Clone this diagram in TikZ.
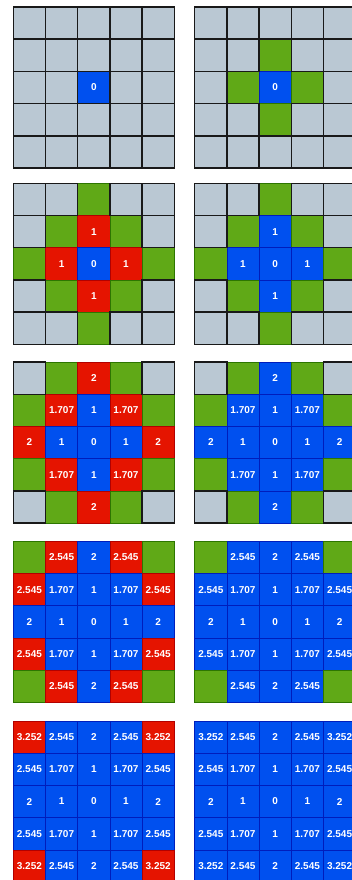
\documentclass[tikz,border=0pt]{standalone}
\usepackage{fontspec}
\setsansfont{Liberation Sans}

\definecolor{cellgray}{HTML}{BAC8D3}
\definecolor{cellgreen}{HTML}{60A917}
\definecolor{linegreen}{HTML}{2D7600}
\definecolor{cellred}{HTML}{E51400}
\definecolor{linered}{HTML}{B20000}
\definecolor{cellblue}{HTML}{0050EF}
\definecolor{lineblue}{HTML}{001DBC}

% distance label from squared offset
\newcommand{\distlabel}[1]{\ifcase#1 0\or 1\or 1.707\or\or 2\or 2.545\or\or\or 3.252\fi}

\begin{document}
\begin{tikzpicture}[
x=1pt, y=-1pt,
cell/.style={
minimum size=32.2pt,
inner sep=0pt,
outer sep=0pt,
anchor=north west,
font=\sffamily\bfseries\fontsize{10}{12}\selectfont,
text=white
},
frame/.style={draw=black!65, line width=1pt}
]

\useasboundingbox (0,0) rectangle (352,880);
\clip (0,0) rectangle (352,880);

% rows of grids: left = settled step, right = relaxed step
\foreach \r/\gy in {1/7, 2/183.3, 3/362, 4/541.3, 5/721} {
  \foreach \side/\gx in {0/13.3, 1/194.7} {
    \draw[frame] (\gx,\gy) rectangle ++(161,161);
    \foreach \pass in {1,2} {
      \foreach \i in {0,...,4} {
        \foreach \j in {0,...,4} {
          \pgfmathtruncatemacro\s{abs(\i-2)+abs(\j-2)}
          \pgfmathtruncatemacro\k{(\i-2)*(\i-2)+(\j-2)*(\j-2)}
          \pgfmathtruncatemacro\st{\s<\r-1 ? 3 : (\s==\r-1 ? ((\side==1 || \r==1) ? 3 : 2) : ((\s==\r && (\side==1 || \r>1)) ? 1 : 0))}
          \pgfmathtruncatemacro\show{(\pass==1 && \st>0) || (\pass==2 && \st==0)}
          \ifcase\st
            \def\fillc{cellgray}\def\linec{black!90}\def\lw{1.4pt}
          \or
            \def\fillc{cellgreen}\def\linec{linegreen}\def\lw{0.6pt}
          \or
            \def\fillc{cellred}\def\linec{linered}\def\lw{0.6pt}
          \else
            \def\fillc{cellblue}\def\linec{lineblue}\def\lw{0.6pt}
          \fi
          \ifnum\show=1
            \node[cell, fill=\fillc, draw=\linec, line width=\lw]
              (c\r\side-\i\j) at (\gx+\i*32.2, \gy+\j*32.2)
              {\ifnum\st>1 \distlabel{\k}\fi};
          \fi
        }
      }
    }
  }
}

\end{tikzpicture}
\end{document}
